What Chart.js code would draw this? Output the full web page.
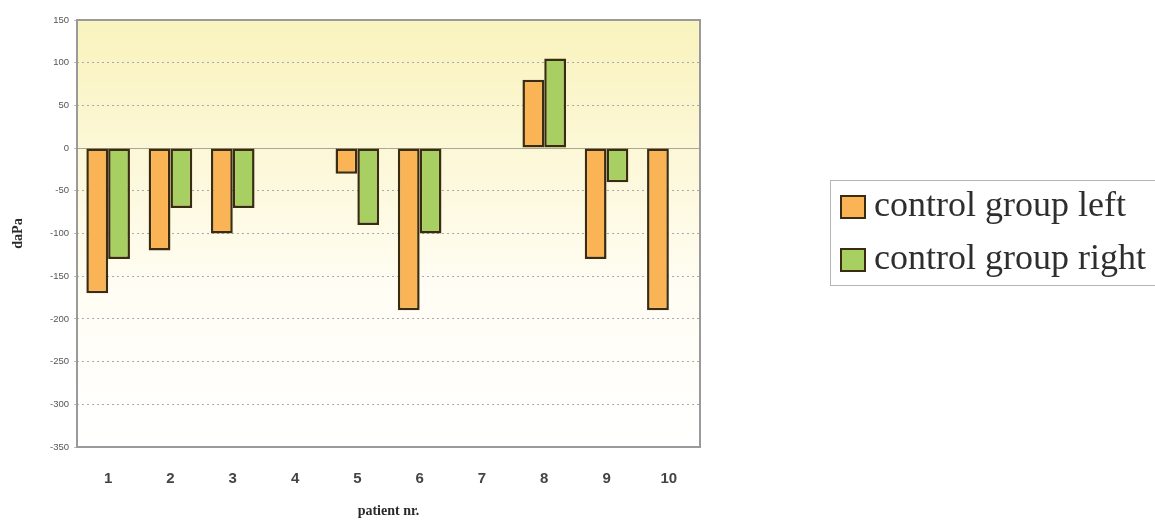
<!DOCTYPE html>
<html>
<head>
<meta charset="utf-8">
<script src="https://cdn.jsdelivr.net/npm/chart.js@4"></script>
<style>
  html, body { margin: 0; padding: 0; background: #ffffff; }
  #wrap { width: 1155px; height: 523px; }
</style>
</head>
<body>
<div id="wrap"><canvas id="chart" width="1155" height="523"></canvas></div>
<script>
// Patients and measured pressure (daPa) per ear
const patients = ['1', '2', '3', '4', '5', '6', '7', '8', '9', '10'];
const leftValues = [-170, -120, -100, null, -30, -190, null, 80, -130, -190];
const rightValues = [-130, -70, -70, null, -90, -100, null, 105, -40, null];
const seriesNames = ['control group left', 'control group right'];
const yMin = -350;
const yMax = 150;
const yStep = 50;

const ORANGE = '#fbb455';
const GREEN = '#a8cf62';
const EDGE = '#3a2c10';

// Yellow-to-white wash behind the plot
const plotBackground = {
  id: 'plotBackground',
  beforeDraw(chart) {
    const { ctx, chartArea: a } = chart;
    const g = ctx.createLinearGradient(0, a.top, 0, a.bottom);
    g.addColorStop(0, '#f9f3bd');
    g.addColorStop(0.3, '#fcf7d6');
    g.addColorStop(0.62, '#fffdf3');
    g.addColorStop(1, '#ffffff');
    ctx.save();
    ctx.fillStyle = g;
    ctx.fillRect(a.left, a.top, a.right - a.left, a.bottom - a.top);
    ctx.restore();
  }
};

// Zero line and plot frame
const plotFrame = {
  id: 'plotFrame',
  beforeDatasetsDraw(chart) {
    const { ctx, chartArea: a, scales } = chart;
    const y0 = Math.round(scales.y.getPixelForValue(0)) + 0.5;
    ctx.save();
    ctx.strokeStyle = '#a9a78f';
    ctx.lineWidth = 1;
    ctx.beginPath();
    ctx.moveTo(a.left, y0);
    ctx.lineTo(a.right, y0);
    ctx.stroke();
    ctx.restore();
  },
  afterDatasetsDraw(chart) {
    const { ctx, chartArea: a } = chart;
    ctx.save();
    ctx.strokeStyle = '#9a9a9a';
    ctx.lineWidth = 2;
    ctx.strokeRect(a.left, a.top, a.right - a.left, a.bottom - a.top);
    ctx.restore();
  }
};

// Boxed legend on the right
const boxLegend = {
  id: 'boxLegend',
  afterDraw(chart) {
    const { ctx } = chart;
    const x = 830.5, y = 180.5, w = 340, h = 105;
    ctx.save();
    ctx.strokeStyle = '#b5b5b5';
    ctx.lineWidth = 1;
    ctx.strokeRect(x, y, w, h);
    ctx.font = '36px "Liberation Serif", "Times New Roman", serif';
    ctx.textBaseline = 'middle';
    ctx.textAlign = 'left';
    chart.data.datasets.forEach((ds, i) => {
      const cy = 207 + i * 53;
      ctx.fillStyle = ds.backgroundColor;
      ctx.fillRect(841, cy - 11, 24, 22);
      ctx.strokeStyle = EDGE;
      ctx.lineWidth = 2;
      ctx.strokeRect(841, cy - 11, 24, 22);
      ctx.fillStyle = '#2e2e2e';
      ctx.fillText(ds.label, 874, cy);
    });
    ctx.restore();
  }
};

new Chart(document.getElementById('chart'), {
  type: 'bar',
  data: {
    labels: patients,
    datasets: [
      {
        label: seriesNames[0],
        data: leftValues,
        backgroundColor: ORANGE,
        borderColor: EDGE,
        borderWidth: 2.5,
        borderSkipped: false
      },
      {
        label: seriesNames[1],
        data: rightValues,
        backgroundColor: GREEN,
        borderColor: EDGE,
        borderWidth: 2.5,
        borderSkipped: false
      }
    ]
  },
  options: {
    responsive: false,
    animation: false,
    devicePixelRatio: 1,
    layout: { padding: { left: 0, top: 20, right: 455, bottom: 0 } },
    datasets: { bar: { categoryPercentage: 0.7, barPercentage: 1.0 } },
    plugins: {
      legend: { display: false },
      tooltip: { enabled: false }
    },
    scales: {
      x: {
        grid: { display: false, drawTicks: false },
        border: { display: false },
        ticks: {
          padding: 23,
          color: '#444444',
          font: { family: 'Arial, "Liberation Sans", sans-serif', size: 15, weight: 'bold' }
        },
        title: {
          display: true,
          text: 'patient nr.',
          color: '#2a2a2a',
          font: { family: '"Liberation Serif", "Times New Roman", serif', size: 14, weight: 'bold' },
          padding: { top: 0, bottom: 3 }
        },
        afterFit(scale) { scale.height = 76; }
      },
      y: {
        min: yMin,
        max: yMax,
        grid: {
          drawTicks: true,
          tickLength: 3,
          tickColor: '#c0c0c0',
          lineWidth: 1,
          color(ctx) {
            const v = ctx.tick ? ctx.tick.value : null;
            if (v === yMin || v === yMax || v === 0) return 'rgba(0,0,0,0)';
            return '#a9a9a9';
          }
        },
        border: { display: false, dash: [2, 3] },
        ticks: {
          stepSize: yStep,
          padding: 5,
          color: '#555555',
          font: { family: 'Arial, "Liberation Sans", sans-serif', size: 9.5 }
        },
        title: {
          display: true,
          text: 'daPa',
          color: '#2a2a2a',
          font: { family: '"Liberation Serif", "Times New Roman", serif', size: 14, weight: 'bold' },
          padding: { top: 10, bottom: 0 }
        },
        afterFit(scale) { scale.width = 77; }
      }
    }
  },
  plugins: [plotBackground, plotFrame, boxLegend]
});
</script>
</body>
</html>
